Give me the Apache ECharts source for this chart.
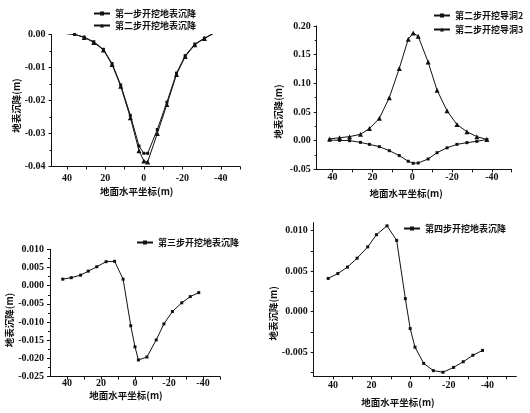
<!DOCTYPE html>
<html>
<head>
<meta charset="utf-8">
<script src="https://cdn.jsdelivr.net/npm/echarts@6/dist/echarts.min.js"></script>
<style>
  html, body { margin: 0; padding: 0; background: #fff; }
  #chart { width: 530px; height: 413px; }
</style>
</head>
<body>
<div id="chart"></div>
<script>
// 图1 第一、二步开挖地表沉降
const x1 = [41, 36, 31, 26, 21, 16.5, 12, 7, 2.5, 0, -2, -7, -12, -17, -21.5, -26.5, -31.5, -36];
const step1 = [0.0003, 0.0000, -0.0008, -0.0022, -0.0045, -0.0088, -0.0153, -0.0245, -0.0338, -0.0360, -0.0360, -0.0288, -0.0205, -0.0117, -0.0064, -0.0029, -0.0011, 0.0003];
const step2 = [0.0004, 0.0001, -0.0009, -0.0024, -0.0047, -0.0091, -0.0157, -0.0252, -0.0352, -0.0383, -0.0386, -0.0300, -0.0212, -0.0121, -0.0067, -0.0031, -0.0012, 0.0002];

// 图2 第二步开挖导洞2、导洞3
const x2 = [41.5, 36.5, 31.5, 26, 21.5, 16.5, 11.5, 6.5, 2, -0.5, -3, -8, -12.5, -17.5, -22.5, -27.5, -32.5, -37.5];
const dong2 = [0.001, 0.0005, 0.000, -0.003, -0.0065, -0.0105, -0.0175, -0.026, -0.036, -0.0395, -0.039, -0.032, -0.021, -0.0125, -0.0065, -0.0035, -0.0012, 0.002];
const dong3 = [0.003, 0.005, 0.007, 0.011, 0.021, 0.039, 0.075, 0.126, 0.177, 0.188, 0.182, 0.137, 0.088, 0.052, 0.028, 0.0155, 0.007, 0.002];

// 图3 第三步开挖地表沉降
const x3 = [42.5, 37.5, 32, 27.5, 22.5, 17, 12, 7, 2.5, 0, -2, -7, -12.5, -17, -22, -27.5, -32.5, -37.5];
const step3 = [0.0018, 0.0022, 0.0029, 0.0040, 0.0052, 0.0066, 0.0067, 0.0018, -0.0110, -0.0168, -0.0204, -0.0196, -0.0149, -0.0105, -0.0071, -0.0047, -0.0030, -0.0019];

// 图4 第四步开挖地表沉降
const x4 = [42.5, 37.5, 32.5, 27.5, 22, 17.5, 12, 7, 2.5, 0, -2.5, -7, -12, -17, -22.5, -27.5, -32.5, -37.5];
const step4 = [0.0041, 0.0047, 0.0055, 0.0066, 0.0080, 0.0095, 0.0106, 0.0088, 0.0016, -0.0021, -0.0044, -0.0064, -0.0073, -0.0075, -0.0069, -0.0062, -0.0054, -0.0048];

// 刻度
const xLabels = [40, 20, 0, -20, -40];
const xTicks = [40, 30, 20, 10, 0, -10, -20, -30, -40, -50];
const y4Labels = [0.010, 0.005, 0.000, -0.005];
const y4Ticks = [0.010, 0.0075, 0.005, 0.0025, 0.000, -0.0025, -0.005, -0.0075];

const NUM_FONT = 'Liberation Serif';
const CN_FONT = 'Noto Sans CJK SC';
const BLACK = '#111';

function pairs(xs, ys) {
  return xs.map((x, i) => [x, ys[i]]);
}

function fmt(digits) {
  return function (v) {
    if (Math.abs(v) < 1e-9) v = 0;
    return v.toFixed(digits);
  };
}

function makeX(gridIndex, min, max, labelMargin, nameGap, nameShift) {
  return {
    gridIndex: gridIndex,
    type: 'value',
    inverse: true,
    min: min,
    max: max,
    axisLine: { onZero: false, lineStyle: { color: BLACK, width: 1 } },
    axisTick: { customValues: xTicks.filter(v => v >= min && v <= max), length: 3, lineStyle: { color: BLACK } },
    axisLabel: {
      customValues: xLabels,
      margin: labelMargin,
      color: BLACK,
      fontFamily: NUM_FONT,
      fontWeight: 'bold',
      fontSize: 10,
      formatter: v => String(v)
    },
    splitLine: { show: false },
    name: '地面水平坐标(m)',
    nameLocation: 'middle',
    nameGap: nameGap,
    nameTextStyle: {
      color: BLACK,
      fontFamily: CN_FONT,
      fontWeight: 'bold',
      fontSize: 9.5,
      padding: [0, nameShift * 2, 0, 0]
    }
  };
}

function makeY(gridIndex, min, max, interval, digits, nameGap, nameShift) {
  return {
    gridIndex: gridIndex,
    type: 'value',
    min: min,
    max: max,
    interval: interval,
    axisLine: { show: true, onZero: false, lineStyle: { color: BLACK, width: 1 } },
    axisTick: { show: true, length: 3, lineStyle: { color: BLACK } },
    minorTick: { show: true, splitNumber: 2, length: 2, lineStyle: { color: BLACK } },
    axisLabel: {
      margin: 6,
      color: BLACK,
      fontFamily: NUM_FONT,
      fontWeight: 'bold',
      fontSize: 10,
      formatter: fmt(digits)
    },
    splitLine: { show: false },
    name: '地表沉降(m)',
    nameLocation: 'middle',
    nameGap: nameGap,
    nameTextStyle: {
      color: BLACK,
      fontFamily: CN_FONT,
      fontWeight: 'bold',
      fontSize: 9.5,
      padding: [0, nameShift * 2, 0, 0]
    }
  };
}

function makeLine(name, idx, data, symbol) {
  return {
    name: name,
    type: 'line',
    xAxisIndex: idx,
    yAxisIndex: idx,
    data: data,
    symbol: symbol,
    symbolSize: symbol === 'triangle' ? 5 : 3,
    showSymbol: true,
    color: BLACK,
    lineStyle: { color: BLACK, width: 1 },
    itemStyle: { color: BLACK },
    animation: false
  };
}

function makeLegend(names, left, top, gap) {
  return {
    data: names,
    left: left,
    top: top,
    orient: 'vertical',
    itemWidth: 16,
    itemHeight: 5,
    itemGap: gap,
    padding: 0,
    textStyle: {
      color: BLACK,
      fontFamily: CN_FONT,
      fontWeight: 'bold',
      fontSize: 9
    }
  };
}

const y4 = makeY(3, -0.008, 0.011, null, 3, 36, 14);
delete y4.interval;
y4.minorTick = { show: false };
y4.axisLabel.customValues = y4Labels;
y4.axisTick.customValues = y4Ticks;

const option = {
  backgroundColor: '#fff',
  animation: false,
  grid: [
    { left: 51.5, top: 34.5, width: 188.5, height: 132 },
    { left: 316.7, top: 26, width: 195, height: 143.3 },
    { left: 50, top: 249.3, width: 170, height: 127.4 },
    { left: 313.7, top: 222.6, width: 202.6, height: 153.7 }
  ],
  legend: [
    makeLegend(['第一步开挖地表沉降', '第二步开挖地表沉降'], 93, 9, 3),
    makeLegend(['第二步开挖导洞2', '第二步开挖导洞3'], 433, 11, 5),
    makeLegend(['第三步开挖地表沉降'], 136, 238, 0),
    makeLegend(['第四步开挖地表沉降'], 403, 224, 0)
  ],
  xAxis: [
    makeX(0, -50, 48, 7, 20, 9),
    makeX(1, -50, 48, 3, 19, 8),
    makeX(2, -50, 50, 2, 14, 9),
    makeX(3, -55, 50, 4, 21, 17)
  ],
  yAxis: [
    makeY(0, -0.04, 0, 0.01, 2, 27, 5),
    makeY(1, -0.05, 0.2, 0.05, 2, 34, 14),
    makeY(2, -0.025, 0.010, 0.005, 3, 32, 7),
    y4
  ],
  series: [
    makeLine('第一步开挖地表沉降', 0, pairs(x1, step1), 'rect'),
    makeLine('第二步开挖地表沉降', 0, pairs(x1, step2), 'triangle'),
    makeLine('第二步开挖导洞2', 1, pairs(x2, dong2), 'rect'),
    makeLine('第二步开挖导洞3', 1, pairs(x2, dong3), 'triangle'),
    makeLine('第三步开挖地表沉降', 2, pairs(x3, step3), 'rect'),
    makeLine('第四步开挖地表沉降', 3, pairs(x4, step4), 'rect')
  ]
};

const myChart = echarts.init(document.getElementById('chart'), null, { renderer: 'canvas' });
myChart.setOption(option);
</script>
</body>
</html>
